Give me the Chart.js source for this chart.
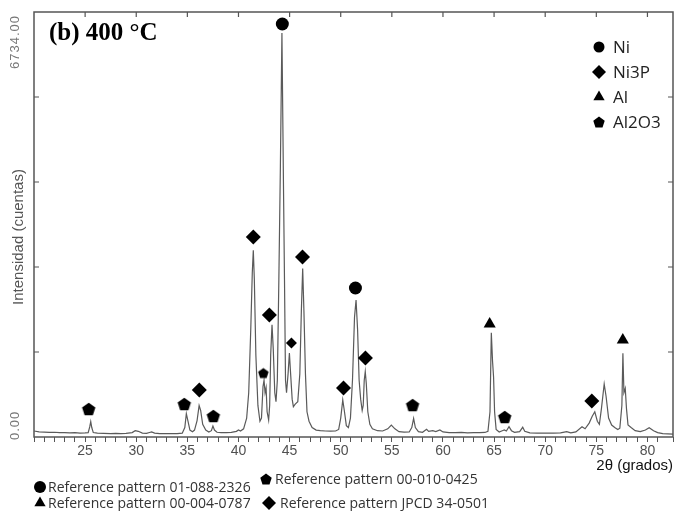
<!DOCTYPE html>
<html>
<head>
<meta charset="utf-8">
<script src="https://cdn.jsdelivr.net/npm/chart.js@4.4.1/dist/chart.umd.min.js"></script>
<style>
  html, body { margin: 0; padding: 0; background: #fff; }
  #wrap { position: relative; width: 683px; height: 511px; }
</style>
</head>
<body>
<div id="wrap"><canvas id="xrd"></canvas></div>
<script>
// XRD pattern, sample (b) 400 °C
const Y_MAX = 6734;

const twoTheta = [
  20.0, 20.5, 21.0, 21.5, 22.0, 22.5, 23.0, 23.5, 24.0, 24.5,
  25.0, 25.3, 25.45, 25.55, 25.65, 25.8, 26.2, 26.8, 27.5, 28.0,
  28.5, 29.0, 29.6, 29.9, 30.2, 30.6, 31.0, 31.3, 31.5, 31.8,
  32.3, 33.0, 33.5, 34.0, 34.5, 34.75, 34.9, 35.05, 35.25, 35.5,
  35.7, 35.95, 36.15, 36.3, 36.5, 36.8, 37.1, 37.35, 37.5, 37.65,
  37.9, 38.3, 38.8, 39.3, 39.8, 40.0, 40.2, 40.5, 40.8, 41.0,
  41.2, 41.35, 41.45, 41.55, 41.7, 41.9, 42.1, 42.25, 42.4, 42.5,
  42.6, 42.7, 42.8, 42.95, 43.05, 43.15, 43.28, 43.4, 43.55, 43.67,
  43.8, 43.95, 44.1, 44.25, 44.4, 44.5, 44.6, 44.7, 44.85, 44.98,
  45.1, 45.25, 45.37, 45.55, 45.8, 46.0, 46.15, 46.28, 46.4, 46.55,
  46.7, 46.9, 47.2, 47.6, 48.0, 48.5, 49.0, 49.5, 49.8, 50.0,
  50.2, 50.35, 50.55, 50.75, 50.95, 51.15, 51.35, 51.5, 51.65, 51.8,
  51.95, 52.1, 52.2, 52.3, 52.4, 52.5, 52.65, 52.85, 53.1, 53.6,
  54.1, 54.6, 54.95, 55.3, 55.7, 56.2, 56.7, 56.95, 57.13, 57.3,
  57.6, 58.0, 58.4, 58.6, 59.0, 59.3, 59.7, 60.0, 60.6, 61.2,
  61.8, 62.4, 63.0, 63.6, 64.1, 64.4, 64.6, 64.73, 64.85, 64.95,
  65.05, 65.2, 65.5, 65.8, 66.0, 66.2, 66.46, 66.7, 67.0, 67.5,
  67.8, 68.0, 68.5, 69.2, 70.0, 70.8, 71.5, 72.1, 72.5, 73.0,
  73.6, 73.9, 74.3, 74.6, 74.85, 75.1, 75.3, 75.5, 75.77, 75.95,
  76.2, 76.5, 76.8, 77.1, 77.3, 77.5, 77.6, 77.7, 77.83, 77.95,
  78.1, 78.4, 78.8, 79.3, 79.8, 80.17, 80.6, 81.0, 81.5, 82.0,
  82.5
];
const counts = [
  95, 80, 78, 72, 75, 68, 70, 66, 68, 62,
  64, 70, 160, 245, 150, 70, 60, 58, 55, 58,
  55, 58, 70, 100, 90, 62, 58, 72, 82, 62,
  55, 52, 55, 52, 60, 150, 370, 260, 110, 84,
  110, 260, 500, 420, 200, 110, 80, 100, 174, 110,
  75, 70, 68, 72, 90, 112, 95, 130, 300, 700,
  1700, 2600, 2960, 2500, 1300, 500, 250, 300, 800, 900,
  700, 780, 400, 270, 500, 1300, 1780, 1400, 700, 560,
  900, 2500, 4300, 6400, 4000, 2500, 900, 700, 1000, 1330,
  1000, 600, 480, 520, 560, 1000, 2000, 2670, 2000, 1000,
  400, 250, 150, 110, 100, 95, 92, 95, 120, 300,
  586, 420, 180, 150, 300, 900, 1900, 2170, 1700, 900,
  600, 420, 500, 900, 1035, 850, 400, 200, 130, 100,
  95, 130, 190, 130, 85, 78, 80, 150, 296, 150,
  85, 75, 122, 90, 100, 85, 111, 80, 70, 68,
  72, 65, 70, 68, 72, 90, 400, 1650, 1200, 950,
  400, 120, 80, 100, 111, 95, 163, 100, 75, 85,
  154, 90, 65, 62, 60, 62, 64, 85, 65, 80,
  163, 130, 220, 330, 400, 250, 200, 450, 840, 650,
  300, 190, 150, 120, 140, 500, 1326, 700, 770, 450,
  190, 150, 100, 85, 110, 148, 100, 70, 55, 50,
  45
];

// phase markers (2θ, height where the symbol sits)
const niTheta = [44.29, 51.44];
const niCounts = [6544, 2361];
const ni3pTheta = [36.17, 41.45, 43.02, 45.18, 46.26, 50.27, 52.42, 74.56];
const ni3pCounts = [745, 3169, 1933, 1489, 2852, 776, 1252, 570];
const alTheta = [64.57, 77.59];
const alCounts = [1790, 1537];
const al2o3Theta = [25.35, 34.70, 37.54, 42.43, 57.03, 66.04];
const al2o3Counts = [444, 523, 333, 1014, 507, 317];

const phaseLabels = ['Ni', 'Ni3P', 'Al', 'Al2O3'];
const refLabels = [
  'Reference pattern 01-088-2326',
  'Reference pattern 00-010-0425',
  'Reference pattern 00-004-0787',
  'Reference pattern JPCD 34-0501'
];

const toPoints = (xs, ys) => xs.map((x, i) => ({ x, y: ys[i] }));

function pentagon(r) {
  const size = Math.ceil(r * 2) + 2;
  const c = document.createElement('canvas');
  c.width = c.height = size;
  const g = c.getContext('2d');
  const cx = size / 2, cy = size / 2 + r * 0.1;
  g.fillStyle = '#000';
  g.beginPath();
  for (let i = 0; i < 5; i++) {
    const a = -Math.PI / 2 + i * 2 * Math.PI / 5;
    g.lineTo(cx + r * Math.cos(a), cy + r * Math.sin(a));
  }
  g.closePath();
  g.fill();
  return c;
}
const PENT = pentagon(7), PENT_SM = pentagon(5.5), PENT_LEG = pentagon(6);

const SANS = '"Liberation Sans", Arial, sans-serif';

const decor = {
  id: 'decor',
  afterDraw(chart) {
    const { ctx, chartArea: a, scales: { x, y } } = chart;
    const h = Chart.helpers;
    ctx.save();

    // frame + inward ticks
    ctx.strokeStyle = '#555';
    ctx.lineWidth = 1.5;
    ctx.strokeRect(a.left, a.top, a.right - a.left, a.bottom - a.top);
    ctx.lineWidth = 1.2;
    ctx.beginPath();
    [1, 2, 3, 4].forEach(i => {
      const py = y.getPixelForValue(Y_MAX * i / 5);
      ctx.moveTo(a.left, py); ctx.lineTo(a.left + 5, py);
      ctx.moveTo(a.right, py); ctx.lineTo(a.right - 5, py);
    });
    for (let v = 25; v <= 80; v += 5) {
      const px = x.getPixelForValue(v);
      ctx.moveTo(px, a.top); ctx.lineTo(px, a.top + 5);
    }
    ctx.stroke();

    // rotated y labels + axis title
    ctx.fillStyle = '#777';
    ctx.font = '13px ' + SANS;
    if ('letterSpacing' in ctx) ctx.letterSpacing = '1px';
    ctx.textBaseline = 'middle';
    ctx.save();
    ctx.translate(15, y.getPixelForValue(Y_MAX));
    ctx.rotate(-Math.PI / 2);
    ctx.textAlign = 'right';
    ctx.fillText('6734.00', -3, 0);
    ctx.restore();
    ctx.save();
    ctx.translate(15, y.getPixelForValue(0));
    ctx.rotate(-Math.PI / 2);
    ctx.textAlign = 'left';
    ctx.fillText('0.00', -3, 0);
    ctx.restore();
    if ('letterSpacing' in ctx) ctx.letterSpacing = '0px';

    ctx.save();
    ctx.fillStyle = '#555';
    ctx.font = '15px ' + SANS;
    ctx.translate(19, 237);
    ctx.rotate(-Math.PI / 2);
    ctx.textAlign = 'center';
    ctx.fillText('Intensidad (cuentas)', 0, 0);
    ctx.restore();

    // panel title
    ctx.fillStyle = '#000';
    ctx.textAlign = 'left';
    ctx.font = 'bold 25px "Liberation Serif", "Times New Roman", serif';
    ctx.fillText('(b) 400 °C', 49, 34);

    // phase legend, top right
    const styles = ['circle', 'rectRot', 'triangle', PENT_LEG];
    const radii = [5.5, 7, 6.5, 6];
    ctx.font = '17px "Open Sans", sans-serif';
    phaseLabels.forEach((lab, i) => {
      const ly = 47 + i * 25;
      ctx.fillStyle = '#000';
      h.drawPoint(ctx, { pointStyle: styles[i], radius: radii[i], rotation: 0, borderWidth: 0 }, 599, ly);
      ctx.fillStyle = '#222';
      ctx.fillText(lab, 613, ly + 1);
    });

    // reference pattern legend, bottom
    const refStyles = ['circle', PENT_LEG, 'triangle', 'rectRot'];
    const refRadii = [6, 6, 6.5, 7];
    const refPos = [[40, 487, 48], [266, 479, 275], [40, 503, 48], [269, 503, 280]];
    ctx.font = '14px "Open Sans", sans-serif';
    refLabels.forEach((lab, i) => {
      const [mx, my, tx] = refPos[i];
      ctx.fillStyle = '#000';
      h.drawPoint(ctx, { pointStyle: refStyles[i], radius: refRadii[i], rotation: 0, borderWidth: 0 }, mx, my);
      ctx.fillStyle = '#333';
      ctx.fillText(lab, tx, my + 1);
    });

    ctx.restore();
  }
};

const marker = (label, xs, ys, style, radius) => ({
  label, data: toPoints(xs, ys), showLine: false,
  pointStyle: style, pointRadius: radius, pointHoverRadius: radius,
  backgroundColor: '#000', borderColor: '#000', pointBorderWidth: 0, order: 0
});

new Chart(document.getElementById('xrd'), {
  type: 'line',
  data: {
    datasets: [
      marker('Ni', niTheta, niCounts, 'circle', 6.5),
      marker('Ni3P', ni3pTheta, ni3pCounts, 'rectRot', [7.5, 7.5, 7.5, 5.5, 7.5, 7.5, 7.5, 7.5]),
      marker('Al', alTheta, alCounts, 'triangle', 7),
      marker('Al2O3', al2o3Theta, al2o3Counts, [PENT, PENT, PENT, PENT_SM, PENT, PENT], 7),
      {
        label: 'pattern', data: toPoints(twoTheta, counts),
        borderColor: '#5a5a5a', borderWidth: 1.2, pointRadius: 0, tension: 0, order: 5
      }
    ]
  },
  options: {
    responsive: true,
    maintainAspectRatio: false,
    animation: false,
    layout: { padding: { top: 12, right: 10, bottom: 36, left: 34 } },
    plugins: { legend: { display: false }, tooltip: { enabled: false } },
    scales: {
      x: {
        type: 'linear', min: 20, max: 82.5,
        afterFit: s => { s.height = 38; },
        ticks: {
          stepSize: 1, autoSkip: false, maxRotation: 0, padding: 1,
          color: '#505050', font: { family: SANS, size: 14 },
          callback: v => (v % 5 === 0 && v >= 25 && v <= 80) ? String(v) : ''
        },
        grid: { drawOnChartArea: false, drawTicks: true, tickLength: 5, color: '#555' },
        border: { display: false },
        title: {
          display: true, text: '2θ (grados)', align: 'end', color: '#111',
          font: { family: SANS, size: 15 }, padding: 0
        }
      },
      y: { display: false, min: 0, max: Y_MAX }
    }
  },
  plugins: [decor]
});
</script>
</body>
</html>
